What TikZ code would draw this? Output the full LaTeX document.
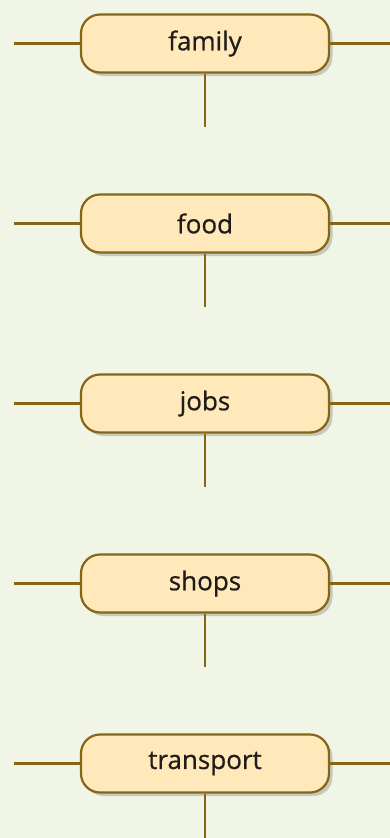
\documentclass[tikz,border=0pt]{standalone}
\usepackage{fontspec}
\setmainfont{Open Sans}[FakeBold=0.7]
\usetikzlibrary{shadows}
\definecolor{bgc}{RGB}{240,245,230}
\definecolor{boxfill}{RGB}{255,233,186}
\definecolor{edgec}{RGB}{133,101,22}
\definecolor{txtc}{RGB}{32,28,26}
\tikzset{
  topic/.style={draw=edgec, line width=2.2pt, fill=boxfill, rounded corners=19pt,
    minimum width=248pt, minimum height=58pt, inner sep=0pt,
    text=txtc, font=\fontsize{26}{30}\selectfont,
    drop shadow={shadow xshift=3.5pt, shadow yshift=-3.5pt, opacity=0.3, fill=black!60}},
  link/.style={draw=edgec, line width=2.2pt}
}
\begin{document}
\begin{tikzpicture}[x=1pt,y=-1pt]
\fill[bgc] (0,0) rectangle (390,838);
\useasboundingbox (0,0) rectangle (390,838);
\foreach \name/\txt [count=\i from 0] in {a/family,b/food,c/jobs,d/shops,e/transport}{
  \pgfmathsetmacro{\yy}{43.5+180*\i}
  \node[topic] (\name) at (205,\yy) {\txt};
  \coordinate (\name L) at (14,\yy);
  \coordinate (\name R) at (390,\yy);
  \coordinate (\name D) at (205,\yy+83.5);
  \draw[link] (\name L) -- (\name.west);
  \draw[link] (\name.east) -- (\name R);
  \draw[link] (\name.south) -- (\name D);
}
\end{tikzpicture}
\end{document}
